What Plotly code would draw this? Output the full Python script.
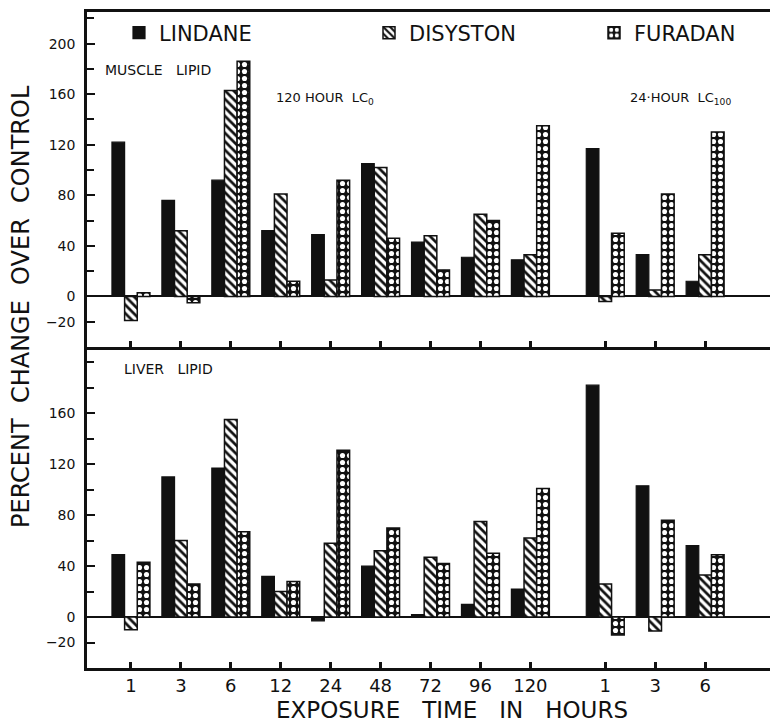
import plotly.graph_objects as go
from plotly.subplots import make_subplots

# ---- data ----
hours = ["1", "3", "6", "12", "24", "48", "72", "96", "120", "1", "3", "6"]
# positions along the x axis (gap between the 120-hour LC0 and 24-hour LC100 sets)
xpos = [0, 1, 2, 3, 4, 5, 6, 7, 8, 9.5, 10.5, 11.5]

muscle_lindane = [122, 76, 92, 52, 49, 105, 43, 31, 29, 117, 33, 12]
muscle_disyston = [-19, 52, 163, 81, 13, 102, 48, 65, 33, -4, 5, 33]
muscle_furadan = [3, -5, 186, 12, 92, 46, 21, 60, 135, 50, 81, 130]

liver_lindane = [49, 110, 117, 32, -3, 40, 2, 10, 22, 182, 103, 56]
liver_disyston = [-10, 60, 155, 20, 58, 52, 47, 75, 62, 26, -11, 33]
liver_furadan = [43, 26, 67, 28, 131, 70, 42, 50, 101, -14, 76, 49]

series_names = ["LINDANE", "DISYSTON", "FURADAN"]
ytick_top = [-20, 0, 40, 80, 120, 160, 200]
ytick_bottom = [-20, 0, 40, 80, 120, 160]

FONT = "DejaVu Sans"
INK = "#111111"
NB = "\u00a0"

fig = make_subplots(rows=2, cols=1, shared_xaxes=True, vertical_spacing=0,
                    row_heights=[335, 321])

styles = [
    dict(color=INK, line=dict(color=INK, width=1.2)),
    dict(color="white", line=dict(color=INK, width=1.5),
         pattern=dict(shape="\\", fgcolor=INK, bgcolor="white", size=6,
                      solidity=0.45, fillmode="replace")),
    dict(color=INK, line=dict(color=INK, width=1.5),
         pattern=dict(shape=".", fgcolor="white", bgcolor=INK, size=7,
                      solidity=0.42, fillmode="replace")),
]
legend_ids = ["legend", "legend2", "legend3"]

for i, (name, top, bot) in enumerate(zip(
        series_names,
        [muscle_lindane, muscle_disyston, muscle_furadan],
        [liver_lindane, liver_disyston, liver_furadan])):
    fig.add_trace(go.Bar(x=xpos, y=top, name=name, marker=styles[i],
                         legend=legend_ids[i], showlegend=True), row=1, col=1)
    fig.add_trace(go.Bar(x=xpos, y=bot, name=name, marker=styles[i],
                         legend=legend_ids[i], showlegend=False), row=2, col=1)

axis_common = dict(showline=True, linecolor=INK, linewidth=2.5,
                   showgrid=False, automargin=False)

fig.update_xaxes(**axis_common, range=[-0.88, 12.96], tickmode="array",
                 tickvals=xpos, ticktext=hours, ticks="inside", ticklen=6,
                 tickwidth=3, tickcolor=INK,
                 tickfont=dict(family=FONT, size=18, color=INK))
fig.update_xaxes(mirror=True, showticklabels=False, row=1, col=1)

fig.update_yaxes(**axis_common, zeroline=True, zerolinecolor=INK,
                 zerolinewidth=2, ticks="inside", ticklen=8, tickwidth=2,
                 tickcolor=INK, ticklabelstandoff=6,
                 tickfont=dict(family=FONT, size=14, color=INK),
                 minor=dict(dtick=20, tick0=0, ticks="inside", ticklen=7,
                            tickwidth=2, tickcolor=INK))
fig.update_yaxes(range=[-40, 225], tickmode="array", tickvals=ytick_top,
                 row=1, col=1)
fig.update_yaxes(range=[-40, 212], tickmode="array", tickvals=ytick_bottom,
                 row=2, col=1)

# page body adds an 8px offset; figure is sized so it fills the window
OFF = 8
W, H = 778 - OFF, 725 - OFF
L, R, T, B = 87 - OFF, 0, 12 - OFF, 57


def px(x):  # screen pixel -> paper fraction
    return (x - OFF - L) / (W - L - R)


def py(y):
    return (H - B - (y - OFF)) / (H - T - B)


leg_common = dict(orientation="h", bgcolor="rgba(0,0,0,0)", yanchor="middle",
                  font=dict(family=FONT, size=21, color=INK),
                  itemwidth=30, tracegroupgap=0)
fig.update_layout(
    legend=dict(**leg_common, x=px(119), y=py(33)),
    legend2=dict(**leg_common, x=px(369), y=py(33)),
    legend3=dict(**leg_common, x=px(594), y=py(33)),
)

ann_font = dict(family=FONT, size=13, color=INK)
annotations = [
    dict(text="MUSCLE" + NB * 3 + "LIPID", x=px(158), y=py(70),
         font=dict(family=FONT, size=14, color=INK)),
    dict(text="120 HOUR" + NB * 2 + "LC<sub>0</sub>", x=px(325), y=py(99),
         font=ann_font),
    dict(text="24·HOUR" + NB * 2 + "LC<sub>100</sub>", x=px(680), y=py(99),
         font=ann_font),
    dict(text="LIVER" + NB * 3 + "LIPID", x=px(168), y=py(369),
         font=dict(family=FONT, size=14, color=INK)),
    dict(text=(NB * 3).join(["EXPOSURE", "TIME", "IN", "HOURS"]),
         x=px(452), y=py(710), font=dict(family=FONT, size=23, color=INK)),
    dict(text=(NB * 2).join(["PERCENT", "CHANGE", "OVER", "CONTROL"]),
         x=px(21), y=py(307), textangle=-90,
         font=dict(family=FONT, size=24, color=INK)),
]
for a in annotations:
    a.update(xref="paper", yref="paper", showarrow=False,
             xanchor="center", yanchor="middle")

fig.update_layout(
    width=W, height=H, margin=dict(l=L, r=R, t=T, b=B, autoexpand=False),
    paper_bgcolor="white", plot_bgcolor="white",
    barmode="group", bargap=0.24, bargroupgap=0,
    annotations=annotations,
    font=dict(family=FONT, color=INK),
)

fig.write_html("out.html")
